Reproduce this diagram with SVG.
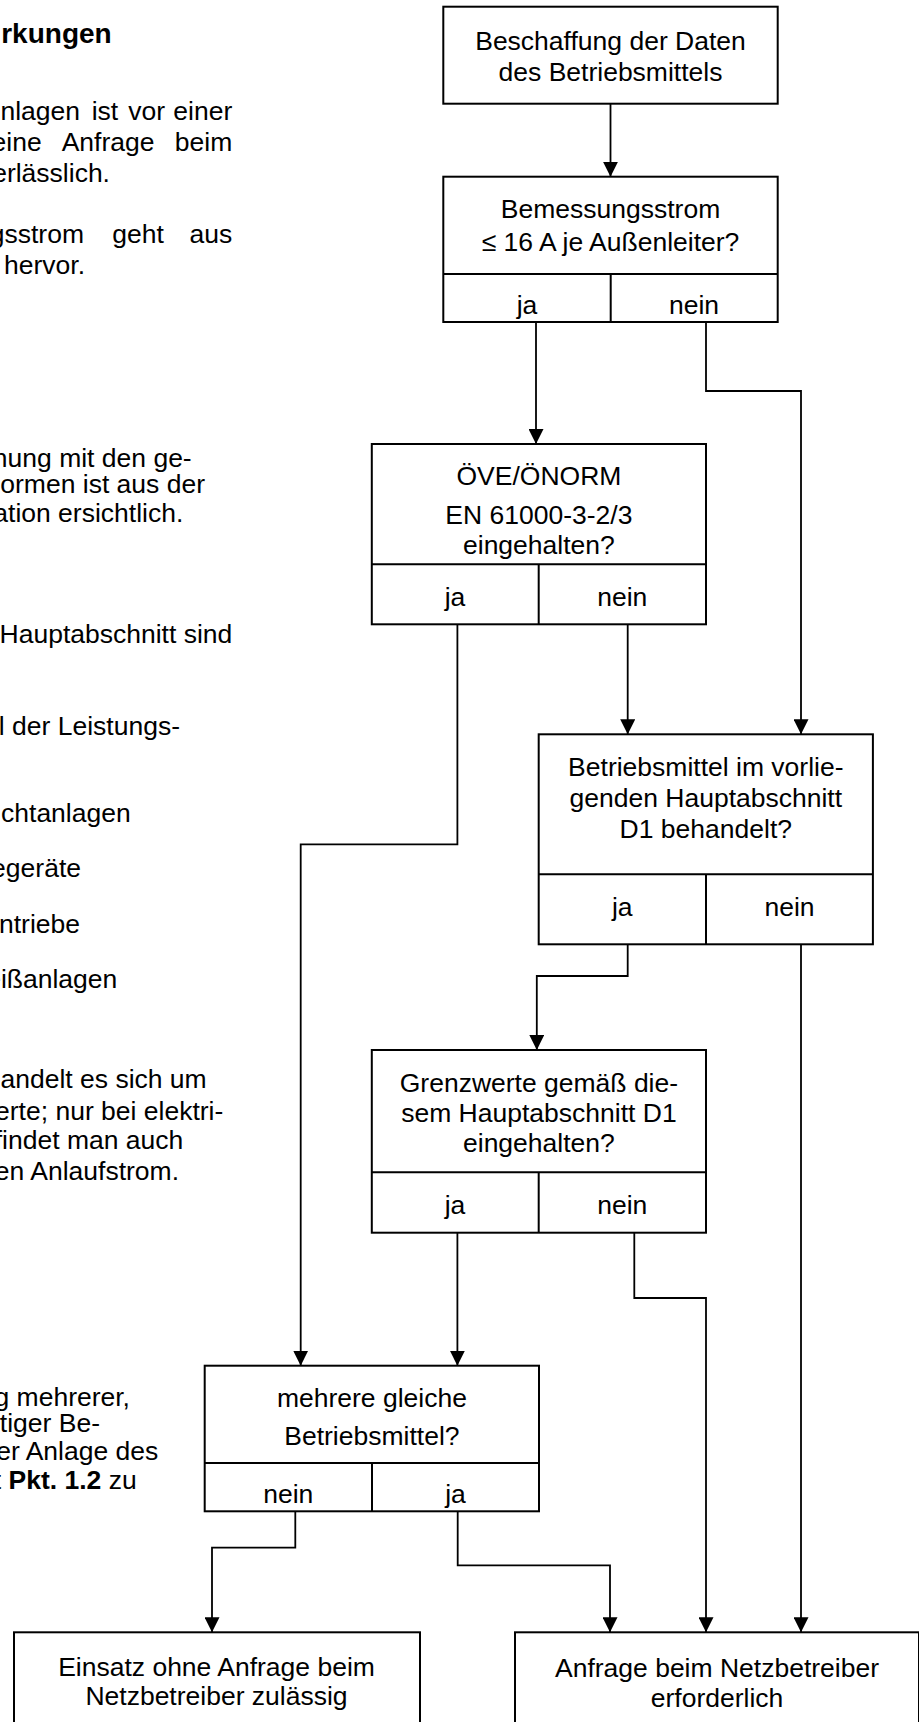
<svg xmlns="http://www.w3.org/2000/svg" width="919" height="1722" viewBox="0 0 919 1722">
<style>
text{font-family:"Liberation Sans",Arial,sans-serif;font-size:26.5px;fill:#000}
.c{text-anchor:middle}
.e{text-anchor:end}
.b{font-weight:bold}
.h{font-size:28px}
.box{fill:#fff;stroke:#000;stroke-width:2}
.ln{fill:none;stroke:#000;stroke-width:2}
.cn{fill:none;stroke:#000;stroke-width:1.8}
</style>
<defs>
<marker id="ah" markerUnits="userSpaceOnUse" markerWidth="15" markerHeight="15" refX="15" refY="7.5" orient="auto" viewBox="0 0 15 15"><path d="M0,0 L15,7.5 L0,15 z" fill="#000"/></marker>
</defs>
<rect width="919" height="1722" fill="#fff"/>
<g id="sidetext">
<text class="e b h" x="111.7" y="43.3">rkungen</text>
<text x="0.4" y="120">nlagen</text><text x="91.7" y="120">ist</text><text x="128.3" y="120">vor</text><text class="e" x="232.3" y="120">einer</text>
<text class="e" x="41.7" y="150.7">eine</text><text x="61.7" y="150.7">Anfrage</text><text class="e" x="232.3" y="150.7">beim</text>
<text class="e" x="110" y="181.7">erlässlich.</text>
<text class="e" x="84" y="243.3">gsstrom</text><text x="112.3" y="243.3">geht</text><text class="e" x="232.3" y="243.3">aus</text>
<text class="e" x="85" y="274">hervor.</text>
<text class="e" x="191.7" y="466.7">hnung mit den ge-</text>
<text class="e" x="205" y="492.7">ormen ist aus der</text>
<text class="e" x="183.3" y="521.7">ation ersichtlich.</text>
<text class="e" x="232.3" y="642.7">Hauptabschnitt sind</text>
<text class="e" x="180" y="735">l der Leistungs-</text>
<text class="e" x="130.7" y="821.7">ichtanlagen</text>
<text class="e" x="81" y="876.7">egeräte</text>
<text class="e" x="80" y="933.3">ntriebe</text>
<text class="e" x="117.3" y="988.3">eißanlagen</text>
<text class="e" x="206.7" y="1088.3">andelt es sich um</text>
<text class="e" x="223.3" y="1120">erte; nur bei elektri-</text>
<text class="e" x="183.3" y="1149.3">findet man auch</text>
<text class="e" x="179" y="1180">en Anlaufstrom.</text>
<text class="e" x="130" y="1406">g mehrerer,</text>
<text class="e" x="100" y="1432">rtiger Be-</text>
<text class="e" x="158.3" y="1459.5">er Anlage des</text>
<text class="e" x="136.7" y="1488.5">t <tspan class="b">Pkt. 1.2</tspan> zu</text>
</g>
<g id="connectors">
<path class="cn" d="M610.5,103.7 V176.7" marker-end="url(#ah)"/>
<path class="cn" d="M536,322 V444" marker-end="url(#ah)"/>
<path class="cn" d="M706,322 V391 H801 V734.3" marker-end="url(#ah)"/>
<path class="cn" d="M457.4,624.3 V844.3 H300.7 V1365.7" marker-end="url(#ah)"/>
<path class="cn" d="M627.7,624.3 V734.3" marker-end="url(#ah)"/>
<path class="cn" d="M627.7,944.3 V976 H536.8 V1050" marker-end="url(#ah)"/>
<path class="cn" d="M801,944.3 V1632.3" marker-end="url(#ah)"/>
<path class="cn" d="M457.4,1232.7 V1365.7" marker-end="url(#ah)"/>
<path class="cn" d="M634.3,1232.7 V1298 H706 V1632.3" marker-end="url(#ah)"/>
<path class="cn" d="M295.3,1511.3 V1547.7 H212 V1632.3" marker-end="url(#ah)"/>
<path class="cn" d="M457.7,1511.3 V1565.3 H610 V1632.3" marker-end="url(#ah)"/>
</g>
<g id="n1">
<rect class="box" x="443.3" y="6.7" width="334.4" height="97"/>
<text class="c" x="610.5" y="50">Beschaffung der Daten</text>
<text class="c" x="610.5" y="80.5">des Betriebsmittels</text>
</g>
<g id="n2">
<rect class="box" x="443.3" y="176.7" width="334.4" height="145.3"/>
<path class="ln" d="M443.3,274 H777.7 M610.7,274 V322"/>
<text class="c" x="610.5" y="218.3">Bemessungsstrom</text>
<text class="c" x="610.5" y="250.7">≤ 16 A je Außenleiter?</text>
<text class="c" x="527" y="314">ja</text>
<text class="c" x="694" y="314">nein</text>
</g>
<g id="n3">
<rect class="box" x="371.8" y="444" width="334.2" height="180.3"/>
<path class="ln" d="M371.8,564.3 H706 M538.7,564.3 V624.3"/>
<text class="c" x="538.9" y="485">ÖVE/ÖNORM</text>
<text class="c" x="538.9" y="524">EN 61000-3-2/3</text>
<text class="c" x="538.9" y="553.5">eingehalten?</text>
<text class="c" x="455" y="606">ja</text>
<text class="c" x="622.3" y="606">nein</text>
</g>
<g id="n4">
<rect class="box" x="538.7" y="734.3" width="334.2" height="210"/>
<path class="ln" d="M538.7,874.3 H872.9 M706,874.3 V944.3"/>
<text class="c" x="705.8" y="776">Betriebsmittel im vorlie-</text>
<text class="c" x="705.8" y="806.7">genden Hauptabschnitt</text>
<text class="c" x="705.8" y="837.7">D1 behandelt?</text>
<text class="c" x="622.3" y="915.5">ja</text>
<text class="c" x="789.5" y="915.5">nein</text>
</g>
<g id="n5">
<rect class="box" x="371.8" y="1050" width="334.2" height="182.7"/>
<path class="ln" d="M371.8,1172.3 H706 M538.7,1172.3 V1232.7"/>
<text class="c" x="538.9" y="1092.3">Grenzwerte gemäß die-</text>
<text class="c" x="538.9" y="1122.3">sem Hauptabschnitt D1</text>
<text class="c" x="538.9" y="1151.7">eingehalten?</text>
<text class="c" x="455" y="1214">ja</text>
<text class="c" x="622.3" y="1214">nein</text>
</g>
<g id="n6">
<rect class="box" x="204.7" y="1365.7" width="334.3" height="145.6"/>
<path class="ln" d="M204.7,1463 H539 M372,1463 V1511.3"/>
<text class="c" x="371.9" y="1407">mehrere gleiche</text>
<text class="c" x="371.9" y="1444.7">Betriebsmittel?</text>
<text class="c" x="288.3" y="1503.3">nein</text>
<text class="c" x="455.5" y="1503.3">ja</text>
</g>
<g id="n7">
<rect class="box" x="14" y="1632.3" width="406" height="110"/>
<text class="c" x="216.5" y="1676">Einsatz ohne Anfrage beim</text>
<text class="c" x="216.5" y="1705">Netzbetreiber zulässig</text>
</g>
<g id="n8">
<rect class="box" x="515" y="1632.3" width="404" height="110"/>
<text class="c" x="717" y="1676.5">Anfrage beim Netzbetreiber</text>
<text class="c" x="717" y="1706.5">erforderlich</text>
</g>
</svg>
